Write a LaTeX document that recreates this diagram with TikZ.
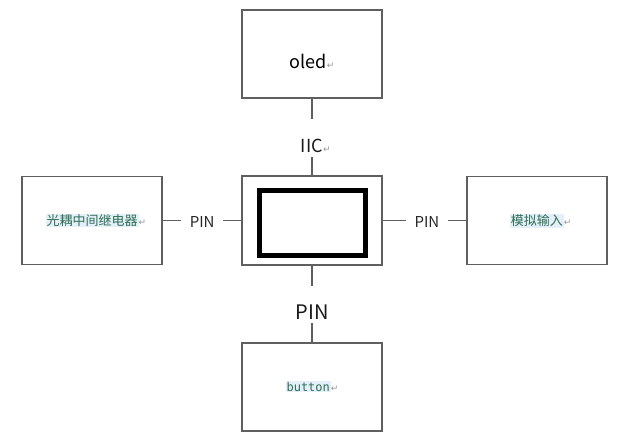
\documentclass[tikz,border=0pt]{standalone}
\usepackage{fontspec}
\setmainfont{Noto Sans CJK SC}
\newfontfamily\codefont{DejaVu Sans Mono}
\newfontfamily\markfont{DejaVu Sans}
\usepackage{xcolor}
\usetikzlibrary{positioning, calc}

\definecolor{boxgray}{RGB}{95,95,95}
\definecolor{textgreen}{HTML}{2E6E50}
\definecolor{hilite}{HTML}{E4EFFA}
\definecolor{markgray}{RGB}{150,150,150}

% word-style paragraph mark and highlight
\newcommand{\parmark}{{\markfont\fontsize{9}{9}\selectfont\textcolor{markgray}{↵}}}
\newcommand{\hilitetext}[1]{{\setlength{\fboxsep}{1pt}\colorbox{hilite}{\textcolor{textgreen}{#1}}}}

\begin{document}
\begin{tikzpicture}[
    x=1pt, y=1pt,
    node distance=76pt and 78pt,
    block/.style={rectangle, draw=boxgray, line width=1.8pt, fill=white,
      minimum width=140pt, minimum height=88pt, inner sep=0pt},
    core/.style={rectangle, draw=black, line width=5pt,
      minimum width=106pt, minimum height=65pt, inner sep=0pt},
    pinlbl/.style={inner xsep=8.5pt, inner ysep=0pt, text height=13pt, text depth=0pt,
      font=\fontsize{15}{15}\selectfont, text=black!85},
    buslbl/.style={inner sep=0pt, text height=33pt, text depth=4pt,
      text=black!90},
    wire/.style={draw=boxgray, line width=1.8pt}
]
\useasboundingbox (0,0) rectangle (625,-447);

\node[block, minimum height=89pt] (mcu) at (312,-220.5) {};
\node[core] (chip) at (312.5,-223) {};

\node[block, above=of mcu, text height=29pt, text depth=0pt,
  font=\fontsize{18}{18}\selectfont] (oled) {oled\parmark};
\node[block, left=of mcu, font=\fontsize{13}{13}\selectfont]
  (relay) {\hilitetext{光耦中间继电器}\rlap{\parmark}};
\node[block, right=83pt of mcu, font=\fontsize{13}{13}\selectfont]
  (adc) {\hilitetext{模拟输入}\rlap{\parmark}};
\node[block, below=of mcu, font=\fontsize{12}{12}\codefont]
  (btn) {\hilitetext{button}\parmark};

\node[buslbl, below=20pt of oled, font=\fontsize{18}{18}\selectfont] (iic) {IIC\rlap{\parmark}};
\node[pinlbl, right=18pt of relay] (pinl) {PIN};
\node[pinlbl, right=23pt of mcu] (pinr) {PIN};
\node[buslbl, below=20pt of mcu, font=\fontsize{20}{20}\selectfont] (pinb) {PIN};

\draw[wire] (oled) -- (iic);
\draw[wire] (iic) -- (mcu);
\draw[wire] (relay) -- (pinl);
\draw[wire] (pinl) -- (mcu);
\draw[wire] (mcu) -- (pinr);
\draw[wire] (pinr) -- (adc);
\draw[wire] (mcu) -- (pinb);
\draw[wire] (pinb) -- (btn);

\end{tikzpicture}
\end{document}
